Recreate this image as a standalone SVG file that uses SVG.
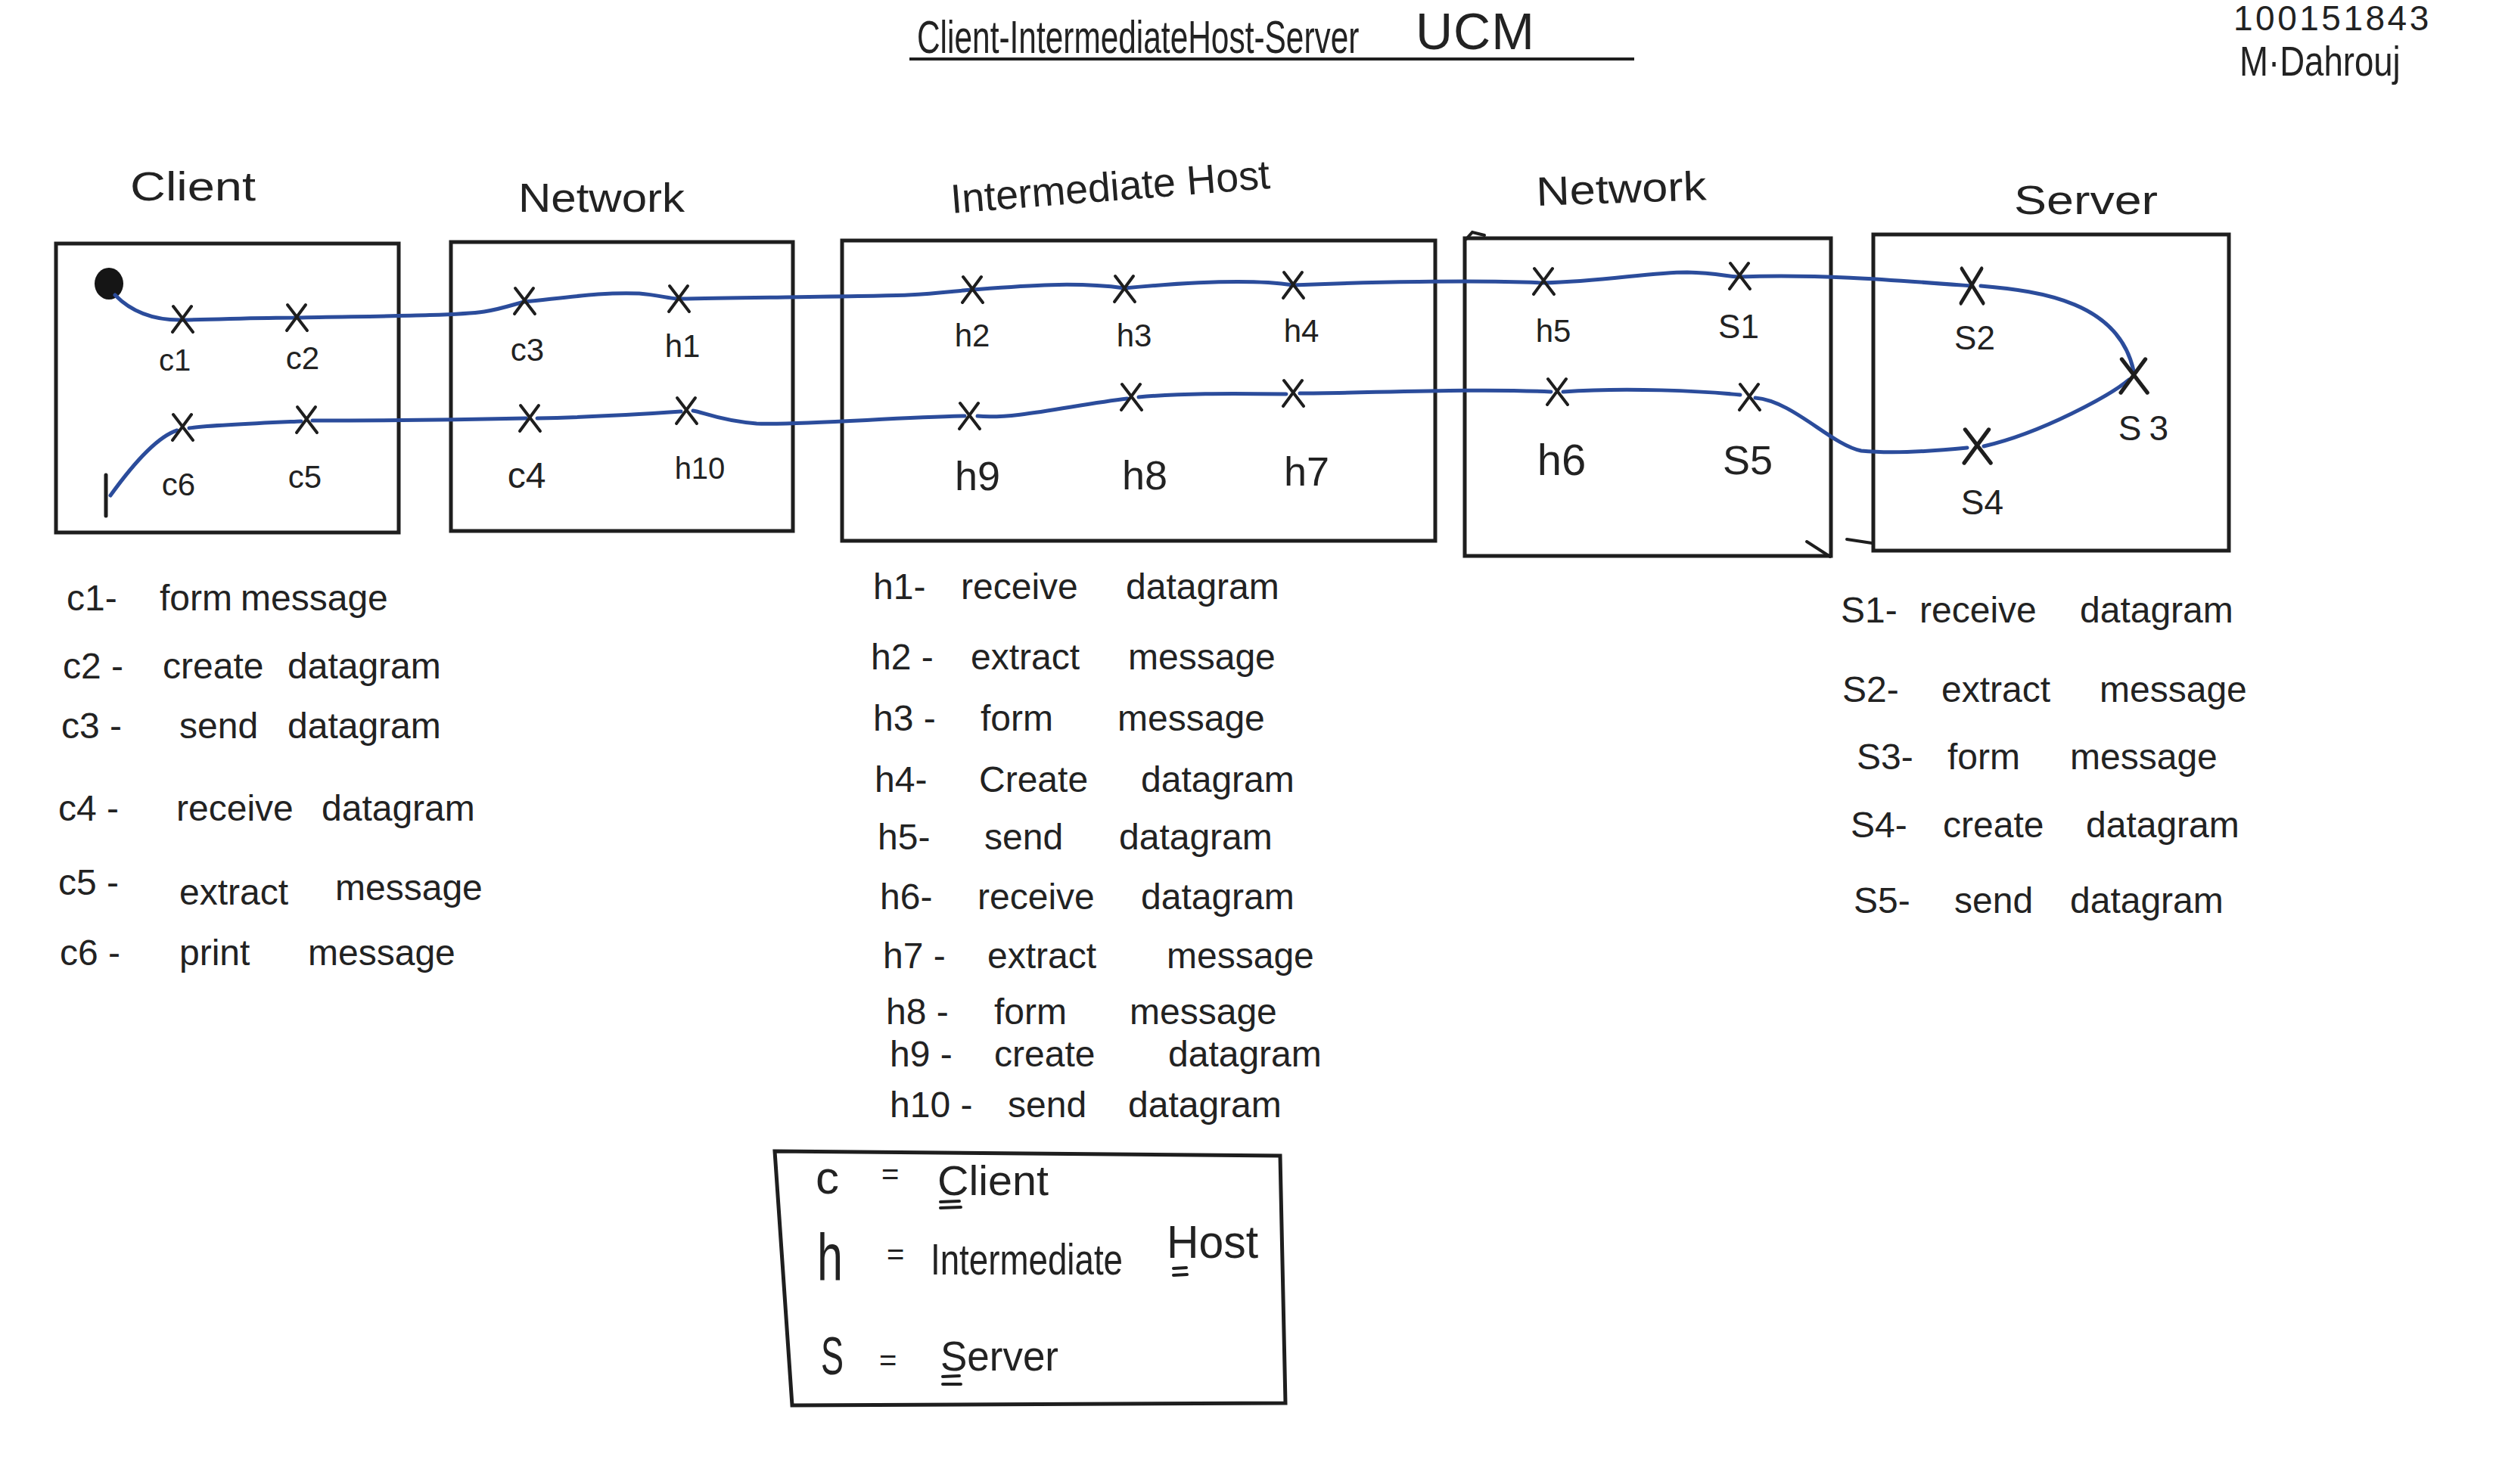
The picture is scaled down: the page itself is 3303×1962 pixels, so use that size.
<svg xmlns="http://www.w3.org/2000/svg" xmlns:xlink="http://www.w3.org/1999/xlink" width="3303" height="1962" viewBox="0 0 3303 1962">
<defs>
<style>
text{font-family:"Liberation Sans","DejaVu Sans",sans-serif;fill:#222}
.box{fill:none;stroke:#1e1e1e;stroke-width:5;stroke-linejoin:miter}
.flow{fill:none;stroke:#2b4c9b;stroke-width:5;stroke-linecap:round}
.xm{fill:none;stroke:#1e1e1e;stroke-width:4;stroke-linecap:round}
.lab{text-anchor:middle}
.li{font-size:48px}
.hd{font-size:54px}
.mk{fill:none;stroke:#1e1e1e;stroke-width:4;stroke-linecap:round}
</style>
<path id="x" class="xm" d="M-12,-17 L14,17 M12,-17 L-13,17"/>
</defs>
<rect width="3303" height="1962" fill="#ffffff"/>

<g id="title">
<text x="0" y="0" font-size="62" transform="translate(1212 70) scale(0.684 1)">Client-IntermediateHost-Server</text>
<text x="1871" y="65" font-size="68" letter-spacing="1">UCM</text>
<line x1="1202" y1="78" x2="2160" y2="78" stroke="#1e1e1e" stroke-width="4"/>
</g>
<g id="author">
<text x="2952" y="40" font-size="46" letter-spacing="3.5">100151843</text>
<text x="0" y="0" font-size="56" transform="translate(2960 100) scale(0.814 1)">M·Dahrouj</text>
</g>

<g id="client">
<text class="hd" x="172" y="265" font-size="64" textLength="166" lengthAdjust="spacingAndGlyphs">Client</text>
<rect class="box" x="74" y="322" width="453" height="382"/>
</g>
<g id="network1">
<text class="hd" x="685" y="280" font-size="52" textLength="220" lengthAdjust="spacingAndGlyphs">Network</text>
<rect class="box" x="596" y="320" width="452" height="382"/>
</g>
<g id="intermediate-host">
<text class="hd" x="1258" y="282" font-size="56" textLength="423" lengthAdjust="spacingAndGlyphs" transform="rotate(-4.5 1258 282)">Intermediate Host</text>
<rect class="box" x="1113" y="318" width="784" height="397"/>
</g>
<g id="network2">
<text class="hd" x="2031" y="272" font-size="54" textLength="225" lengthAdjust="spacingAndGlyphs" transform="rotate(-2 2031 272)">Network</text>
<rect class="box" x="1936" y="315" width="484" height="420"/>
</g>
<g id="server">
<text class="hd" x="2662" y="283" font-size="54" textLength="190" lengthAdjust="spacingAndGlyphs">Server</text>
<rect class="box" x="2476" y="310" width="470" height="418"/>
</g>

<g id="marks">
<path class="mk" d="M1938,316 L1946,307 L1962,311"/>
<path class="mk" d="M2388,716 L2419,736"/>
<path class="mk" d="M2441,713 L2474,718"/>
</g>

<g id="connectors">
<ellipse id="start" cx="144" cy="375" rx="19" ry="21" fill="#151515"/>
<path class="flow" d="M152,390 Q185,424 241,423 C300,422 340,420 392,420 C480,418 600,418 640,412 C665,408 680,402 693,399 C760,392 800,386 845,388 C870,390 885,395 897,395 C1000,393 1150,392 1200,390 C1240,388 1260,385 1285,383 C1350,378 1420,372 1486,381 C1560,374 1650,368 1709,377 C1800,373 1950,370 2040,374 C2120,372 2180,360 2230,360 C2270,361 2285,366 2299,366 C2400,362 2500,370 2606,378"/>
<path class="flow" d="M2618,378 C2700,385 2800,400 2820,490"/>
<path class="flow" d="M2814,502 C2790,522 2700,572 2622,590"/>
<path class="flow" d="M2600,592 C2560,596 2500,600 2460,596 C2420,588 2370,530 2320,526"/>
<path class="flow" d="M2300,522 C2250,517 2150,512 2066,518"/>
<path class="flow" d="M2050,518 C1950,513 1800,520 1718,520"/>
<path class="flow" d="M1700,521 C1620,520 1560,520 1505,525"/>
<path class="flow" d="M1490,527 C1420,535 1340,555 1292,550"/>
<path class="flow" d="M1275,550 C1180,552 1060,562 1000,560 C950,556 930,545 916,543"/>
<path class="flow" d="M900,544 C840,548 760,552 710,553"/>
<path class="flow" d="M695,553 C600,555 480,556 413,556"/>
<path class="flow" d="M398,557 C330,560 280,562 250,566"/>
<path class="flow" d="M234,569 Q200,580 146,655"/>
<line id="end" x1="140" y1="628" x2="140" y2="682" stroke="#1e1e1e" stroke-width="5" stroke-linecap="round"/>
</g>

<g id="c1"><use xlink:href="#x" x="241" y="422"/><text class="lab" x="231" y="490" font-size="40">c1</text></g>
<g id="c2"><use xlink:href="#x" x="392" y="420"/><text class="lab" x="400" y="488" font-size="42">c2</text></g>
<g id="c3"><use xlink:href="#x" x="693" y="398"/><text class="lab" x="697" y="477" font-size="42">c3</text></g>
<g id="h1"><use xlink:href="#x" x="897" y="395"/><text class="lab" x="902" y="472" font-size="42">h1</text></g>
<g id="h2"><use xlink:href="#x" x="1285" y="383"/><text class="lab" x="1285" y="458" font-size="42">h2</text></g>
<g id="h3"><use xlink:href="#x" x="1486" y="382"/><text class="lab" x="1499" y="458" font-size="42">h3</text></g>
<g id="h4"><use xlink:href="#x" x="1709" y="377"/><text class="lab" x="1720" y="452" font-size="42">h4</text></g>
<g id="h5"><use xlink:href="#x" x="2040" y="372"/><text class="lab" x="2053" y="452" font-size="42">h5</text></g>
<g id="s1"><use xlink:href="#x" x="2299" y="365"/><text class="lab" x="2298" y="447" font-size="44">S1</text></g>
<g id="s2"><use xlink:href="#x" x="2606" y="378" transform="translate(2606 378) scale(1.1 1.35) translate(-2606 -378)"/><text class="lab" x="2610" y="462" font-size="44">S2</text></g>
<g id="s3"><use xlink:href="#x" x="2820" y="497" transform="translate(2820 497) scale(1.3) translate(-2820 -497)"/><text class="lab" x="2838" y="582" font-size="46" letter-spacing="10">S3</text></g>
<g id="s4"><use xlink:href="#x" x="2613" y="590" transform="translate(2613 590) scale(1.3) translate(-2613 -590)"/><text class="lab" x="2620" y="680" font-size="46">S4</text></g>
<g id="s5"><use xlink:href="#x" x="2312" y="525"/><text class="lab" x="2310" y="627" font-size="54">S5</text></g>
<g id="h6"><use xlink:href="#x" x="2058" y="518"/><text class="lab" x="2064" y="628" font-size="58">h6</text></g>
<g id="h7"><use xlink:href="#x" x="1709" y="520"/><text class="lab" x="1727" y="642" font-size="54">h7</text></g>
<g id="h8"><use xlink:href="#x" x="1495" y="525"/><text class="lab" x="1513" y="647" font-size="54">h8</text></g>
<g id="h9"><use xlink:href="#x" x="1281" y="550"/><text class="lab" x="1292" y="648" font-size="54">h9</text></g>
<g id="h10"><use xlink:href="#x" x="907" y="543"/><text class="lab" x="925" y="633" font-size="40">h10</text></g>
<g id="c4"><use xlink:href="#x" x="700" y="553"/><text class="lab" x="696" y="645" font-size="48">c4</text></g>
<g id="c5"><use xlink:href="#x" x="405" y="555"/><text class="lab" x="403" y="645" font-size="42">c5</text></g>
<g id="c6"><use xlink:href="#x" x="241" y="565"/><text class="lab" x="236" y="655" font-size="42">c6</text></g>

<g id="client-list" class="li">
<text y="807"><tspan x="88">c1-</tspan><tspan x="211">form</tspan><tspan x="318">message</tspan></text>
<text y="897"><tspan x="83">c2 -</tspan><tspan x="215">create</tspan><tspan x="380">datagram</tspan></text>
<text y="976"><tspan x="81">c3 -</tspan><tspan x="237">send</tspan><tspan x="380">datagram</tspan></text>
<text y="1085"><tspan x="77">c4 -</tspan><tspan x="233">receive</tspan><tspan x="425">datagram</tspan></text>
<text y="1183"><tspan x="77">c5 -</tspan><tspan x="237" y="1196">extract</tspan><tspan x="443" y="1190">message</tspan></text>
<text y="1276"><tspan x="79">c6 -</tspan><tspan x="237">print</tspan><tspan x="407">message</tspan></text>
</g>

<g id="host-list" class="li">
<text y="792"><tspan x="1154">h1-</tspan><tspan x="1270">receive</tspan><tspan x="1488">datagram</tspan></text>
<text y="885"><tspan x="1151">h2 -</tspan><tspan x="1283">extract</tspan><tspan x="1491">message</tspan></text>
<text y="966"><tspan x="1154">h3 -</tspan><tspan x="1296">form</tspan><tspan x="1477">message</tspan></text>
<text y="1047"><tspan x="1156">h4-</tspan><tspan x="1294">Create</tspan><tspan x="1508">datagram</tspan></text>
<text y="1123"><tspan x="1160">h5-</tspan><tspan x="1301">send</tspan><tspan x="1479">datagram</tspan></text>
<text y="1202"><tspan x="1163">h6-</tspan><tspan x="1292">receive</tspan><tspan x="1508">datagram</tspan></text>
<text y="1280"><tspan x="1167">h7 -</tspan><tspan x="1305">extract</tspan><tspan x="1542">message</tspan></text>
<text y="1354"><tspan x="1171">h8 -</tspan><tspan x="1314">form</tspan><tspan x="1493">message</tspan></text>
<text y="1410"><tspan x="1176">h9 -</tspan><tspan x="1314">create</tspan><tspan x="1544">datagram</tspan></text>
<text y="1477"><tspan x="1176">h10 -</tspan><tspan x="1332">send</tspan><tspan x="1491">datagram</tspan></text>
</g>

<g id="server-list" class="li">
<text y="823"><tspan x="2433">S1-</tspan><tspan x="2537">receive</tspan><tspan x="2749">datagram</tspan></text>
<text y="928"><tspan x="2435">S2-</tspan><tspan x="2566">extract</tspan><tspan x="2775">message</tspan></text>
<text y="1017"><tspan x="2454">S3-</tspan><tspan x="2574">form</tspan><tspan x="2736">message</tspan></text>
<text y="1107"><tspan x="2446">S4-</tspan><tspan x="2568">create</tspan><tspan x="2757">datagram</tspan></text>
<text y="1207"><tspan x="2450">S5-</tspan><tspan x="2583">send</tspan><tspan x="2736">datagram</tspan></text>
</g>

<g id="legend">
<path class="box" d="M1024,1522 L1692,1528 L1699,1855 L1047,1858 Z"/>
<text x="1078" y="1578" font-size="62">c</text>
<text x="1165" y="1566" font-size="40">=</text>
<text x="1239" y="1580" font-size="56" textLength="147" lengthAdjust="spacingAndGlyphs">Client</text>
<path class="mk" d="M1243,1589 L1268,1588 M1243,1597 L1270,1596"/>
<text x="1080" y="1692" font-size="88" textLength="34" lengthAdjust="spacingAndGlyphs">h</text>
<text x="1172" y="1672" font-size="40">=</text>
<text x="1230" y="1685" font-size="58" textLength="254" lengthAdjust="spacingAndGlyphs">Intermediate</text>
<text x="1542" y="1663" font-size="62" textLength="121" lengthAdjust="spacingAndGlyphs">Host</text>
<path class="mk" d="M1551,1677 L1568,1676 M1551,1686 L1569,1685"/>
<text x="1085" y="1817" font-size="70" textLength="30" lengthAdjust="spacingAndGlyphs">S</text>
<text x="1162" y="1812" font-size="40">=</text>
<text x="1243" y="1812" font-size="56" textLength="156" lengthAdjust="spacingAndGlyphs">Server</text>
<path class="mk" d="M1246,1820 L1268,1819 M1246,1830 L1270,1830"/>
</g>
</svg>
